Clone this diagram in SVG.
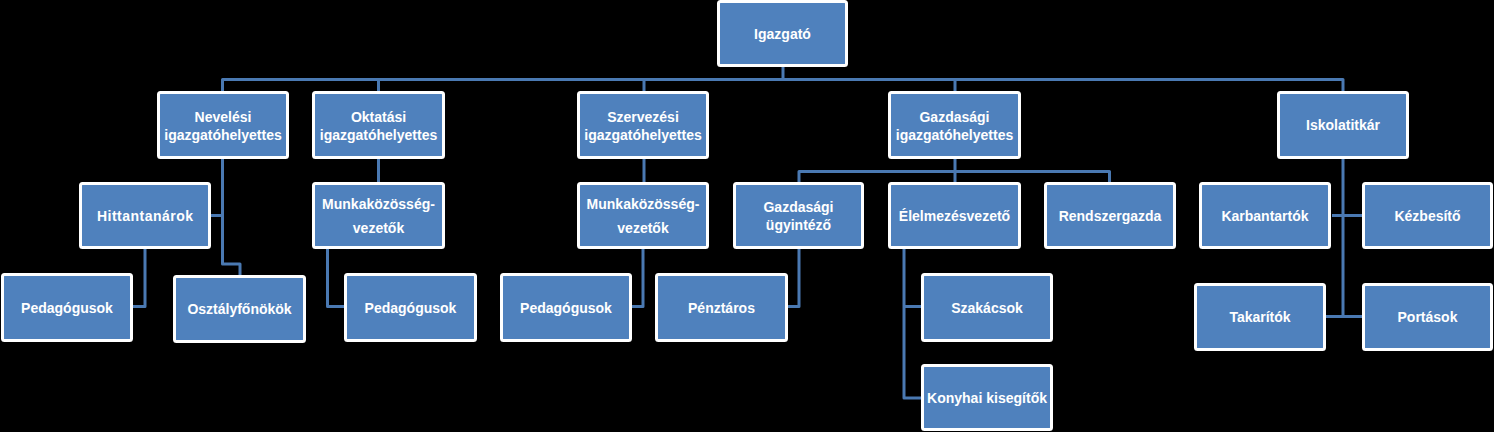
<svg xmlns="http://www.w3.org/2000/svg" width="1494" height="432" viewBox="0 0 1494 432">
<style>
.bg{fill:#000000}
.box{fill:#4F81BD;stroke:#FFFFFF;stroke-width:3}
.lbl{font-family:"Liberation Sans",Arial,sans-serif;font-weight:bold;font-size:14px;fill:#FFFFFF;text-anchor:middle}
.con{fill:none;stroke:#4A79B2;stroke-width:3;stroke-linejoin:round;stroke-linecap:butt}
</style>
<rect class="bg" x="0" y="0" width="1494" height="432"/>
<g id="connectors">
<path class="con" d="M783,67 V79.5"/>
<path class="con" d="M222.5,91 V79.5 H1343 V91"/>
<path class="con" d="M378.5,79.5 V91 M644,79.5 V91 M955,79.5 V91"/>
<path class="con" d="M222.5,159 V264 H240 V275"/>
<path class="con" d="M211,215.5 H222.5"/>
<path class="con" d="M145,249 V306.5 H133"/>
<path class="con" d="M378.5,159 V182"/>
<path class="con" d="M327.5,249 V306.5 H344"/>
<path class="con" d="M644,159 V182"/>
<path class="con" d="M643,249 V306.5 H632"/>
<path class="con" d="M955,159 V182"/>
<path class="con" d="M799,182 V171.5 H1109.5 V182"/>
<path class="con" d="M799,249 V306.5 H788"/>
<path class="con" d="M904,249 V398 H921 M904,306.5 H921"/>
<path class="con" d="M1343,159 V316.5"/>
<path class="con" d="M1332,215.5 H1362"/>
<path class="con" d="M1326,316.5 H1362"/>
</g>
<g id="n-igazgato"><rect class="box" x="718.5" y="1.5" width="128" height="64" rx="2"/><text class="lbl" x="782.5" y="38.5">Igazgató</text></g>
<g id="n-neveles"><rect class="box" x="158.5" y="92.5" width="129" height="65" rx="2"/><text class="lbl" x="223" y="121.5">Nevelési</text><text class="lbl" x="223" y="139.5">igazgatóhelyettes</text></g>
<g id="n-oktatas"><rect class="box" x="313.5" y="92.5" width="130" height="65" rx="2"/><text class="lbl" x="378.5" y="121.5">Oktatási</text><text class="lbl" x="378.5" y="139.5">igazgatóhelyettes</text></g>
<g id="n-szervezes"><rect class="box" x="578.5" y="92.5" width="129" height="65" rx="2"/><text class="lbl" x="643" y="121.5">Szervezési</text><text class="lbl" x="643" y="139.5">igazgatóhelyettes</text></g>
<g id="n-gazdasagi"><rect class="box" x="889.5" y="92.5" width="130" height="65" rx="2"/><text class="lbl" x="954.5" y="121.5">Gazdasági</text><text class="lbl" x="954.5" y="139.5">igazgatóhelyettes</text></g>
<g id="n-iskolatitkar"><rect class="box" x="1278.5" y="92.5" width="129" height="65" rx="2"/><text class="lbl" x="1343" y="130">Iskolatitkár</text></g>
<g id="n-hittantanarok"><rect class="box" x="80.5" y="183.5" width="129" height="64" rx="2"/><text class="lbl" x="145" y="220.5" textLength="96" lengthAdjust="spacing">Hittantanárok</text></g>
<g id="n-munka1"><rect class="box" x="313.5" y="183.5" width="130" height="64" rx="2"/><text class="lbl" x="378.5" y="209">Munkaközösség-</text><text class="lbl" x="378.5" y="233">vezetők</text></g>
<g id="n-munka2"><rect class="box" x="578.5" y="183.5" width="129" height="64" rx="2"/><text class="lbl" x="643" y="209">Munkaközösség-</text><text class="lbl" x="643" y="233">vezetők</text></g>
<g id="n-gazd-ugyintezo"><rect class="box" x="734.5" y="183.5" width="128" height="64" rx="2"/><text class="lbl" x="798.5" y="212">Gazdasági</text><text class="lbl" x="798.5" y="230">ügyintéző</text></g>
<g id="n-elelmezes"><rect class="box" x="889.5" y="183.5" width="130" height="64" rx="2"/><text class="lbl" x="954.5" y="220.5">Élelmezésvezető</text></g>
<g id="n-rendszergazda"><rect class="box" x="1045.5" y="183.5" width="129" height="64" rx="2"/><text class="lbl" x="1110" y="220.5">Rendszergazda</text></g>
<g id="n-karbantartok"><rect class="box" x="1200.5" y="183.5" width="129" height="64" rx="2"/><text class="lbl" x="1265" y="220.5">Karbantartók</text></g>
<g id="n-kezbesito"><rect class="box" x="1363.5" y="183.5" width="128" height="64" rx="2"/><text class="lbl" x="1427.5" y="220.5">Kézbesítő</text></g>
<g id="n-ped1"><rect class="box" x="2.5" y="274.5" width="129" height="66" rx="2"/><text class="lbl" x="67" y="312.5">Pedagógusok</text></g>
<g id="n-osztalyfonokok"><rect class="box" x="174.5" y="276.5" width="130" height="65" rx="2"/><text class="lbl" x="239.5" y="314">Osztályfőnökök</text></g>
<g id="n-ped2"><rect class="box" x="345.5" y="274.5" width="130" height="66" rx="2"/><text class="lbl" x="410.5" y="312.5">Pedagógusok</text></g>
<g id="n-ped3"><rect class="box" x="501.5" y="274.5" width="129" height="66" rx="2"/><text class="lbl" x="566" y="312.5">Pedagógusok</text></g>
<g id="n-penztaros"><rect class="box" x="656.5" y="274.5" width="130" height="66" rx="2"/><text class="lbl" x="721.5" y="312.5">Pénztáros</text></g>
<g id="n-szakacsok"><rect class="box" x="922.5" y="274.5" width="129" height="66" rx="2"/><text class="lbl" x="987" y="312.5">Szakácsok</text></g>
<g id="n-konyhai"><rect class="box" x="922.5" y="365.5" width="129" height="64" rx="2"/><text class="lbl" x="987" y="403" textLength="120" lengthAdjust="spacingAndGlyphs">Konyhai kisegítők</text></g>
<g id="n-takaritok"><rect class="box" x="1195.5" y="284.5" width="129" height="65" rx="2"/><text class="lbl" x="1260" y="322">Takarítók</text></g>
<g id="n-portasok"><rect class="box" x="1363.5" y="284.5" width="128" height="65" rx="2"/><text class="lbl" x="1427.5" y="322">Portások</text></g>
</svg>
